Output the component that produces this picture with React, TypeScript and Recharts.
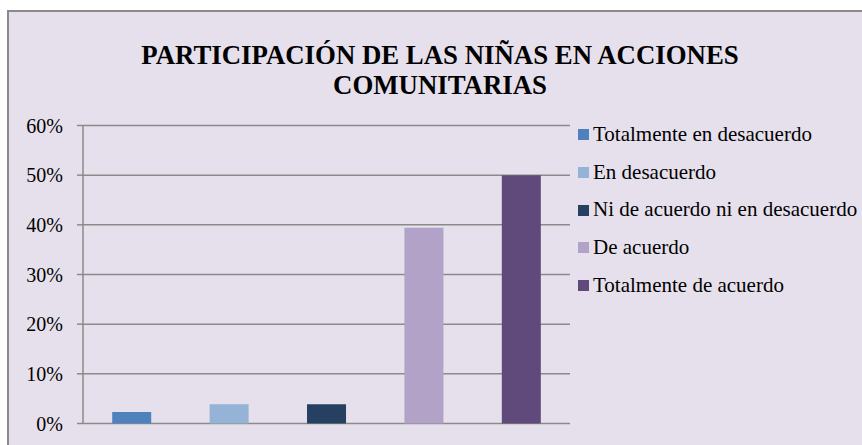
import { Bar, BarChart, CartesianGrid, Cell, XAxis, YAxis } from "recharts";

const categories = [
  "Totalmente en desacuerdo",
  "En desacuerdo",
  "Ni de acuerdo ni en desacuerdo",
  "De acuerdo",
  "Totalmente de acuerdo",
];
const values = [2.3, 3.9, 3.9, 39.4, 50];
const colors = ["#4F81BD", "#95B3D7", "#254061", "#B3A2C7", "#604A7B"];
const yTicks = [0, 10, 20, 30, 40, 50, 60];
const titleLines = ["PARTICIPACIÓN DE LAS NIÑAS EN ACCIONES", "COMUNITARIAS"];

const data = categories.map((name, i) => ({ name, value: values[i] }));

const font = '"Liberation Serif", Tinos, "Times New Roman", Times, "DejaVu Serif", serif';
const gray = "#8A8A8A";

export default function App() {
  return (
    <div style={{ position: "relative", width: 862, height: 445, overflow: "hidden", background: "#fff", fontFamily: font }}>
      <style>{"body{margin:0}"}</style>
      <div
        style={{
          position: "absolute",
          left: 7,
          top: 10,
          width: 880,
          height: 460,
          background: "#E6E0EC",
          border: `2px solid ${gray}`,
          boxSizing: "border-box",
        }}
      />
      <div
        style={{
          position: "absolute",
          left: 0,
          top: 39.5,
          width: 880,
          textAlign: "center",
          fontSize: 26.8,
          fontWeight: "bold",
          lineHeight: "30.5px",
          color: "#000",
          fontFamily: font,
        }}
      >
        {titleLines.map((line) => (
          <div key={line}>{line}</div>
        ))}
      </div>
      <div style={{ position: "absolute", left: 0, top: 0 }}>
        <BarChart
          width={862}
          height={445}
          data={data}
          margin={{ top: 125.5, right: 292, bottom: 21.5, left: 23 }}
          barCategoryGap="30%"
        >
          <CartesianGrid vertical={false} stroke={gray} strokeWidth={1.5} />
          <XAxis dataKey="name" tick={false} tickLine={false} height={0} axisLine={{ stroke: gray, strokeWidth: 1.5 }} />
          <YAxis
            width={60}
            domain={[0, 60]}
            ticks={yTicks}
            interval={0}
            tickFormatter={(v) => `${v}%`}
            tick={{ fill: "#000", fontSize: 20, fontFamily: font }}
            tickSize={6}
            tickMargin={14}
            tickLine={{ stroke: gray, strokeWidth: 1.5 }}
            axisLine={{ stroke: gray, strokeWidth: 1.5 }}
          />
          <Bar dataKey="value" isAnimationActive={false}>
            {data.map((d, i) => (
              <Cell key={d.name} fill={colors[i]} />
            ))}
          </Bar>
        </BarChart>
      </div>
      <div style={{ position: "absolute", left: 578, top: 116, fontSize: 21, color: "#000", fontFamily: font }}>
        {categories.map((name, i) => (
          <div key={name} style={{ display: "flex", alignItems: "center", height: 37.7, lineHeight: "37.7px", whiteSpace: "nowrap" }}>
            <span style={{ width: 11, height: 11, background: colors[i], marginRight: 4, flex: "none" }} />
            {name}
          </div>
        ))}
      </div>
    </div>
  );
}
